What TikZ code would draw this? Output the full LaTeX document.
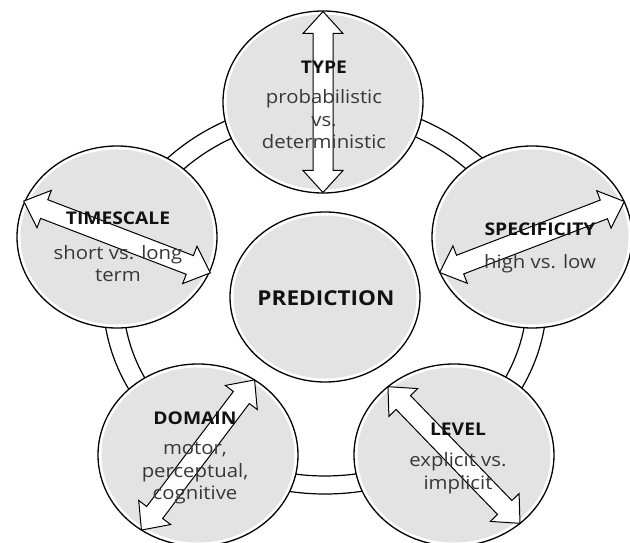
\documentclass[tikz,border=0pt]{standalone}
\usepackage{fontspec}
\setmainfont{Open Sans}[FakeStretch=1.1]
\usetikzlibrary{shapes.geometric}

\definecolor{bubblegray}{HTML}{E3E3E3}
\definecolor{bodyink}{HTML}{383838}
\definecolor{titleink}{HTML}{111111}

% bold heading inside a bubble
\newcommand\bubbletitle[1]{{\color{titleink}\fontsize{17.5}{22.5}\selectfont\bfseries #1}}

% white double-headed block arrow: centre, angle, total length
\newcommand\twowayarrow[3]{%
  \begin{scope}[shift={(#1)}, rotate=#2]
    \pgfmathsetmacro\halflen{#3/2}
    \draw[twoway] (-\halflen,0) -- ++(22,20) -- ++(0,-10) -- (\halflen-22,10)
      -- ++(0,10) -- (\halflen,0) -- ++(-22,-20) -- ++(0,10)
      -- (-\halflen+22,-10) -- ++(0,-10) -- cycle;
  \end{scope}}

\begin{document}
\begin{tikzpicture}[x=1pt, y=1pt,
  ringline/.style={draw=black, line width=1.2pt},
  bubble/.style={ellipse, draw=black, line width=1.3pt, fill=white,
    inner sep=0pt, outer sep=0pt, minimum width=200pt, minimum height=182pt,
    path picture={\fill[bubblegray] (path picture bounding box.center)
      ellipse [x radius=96.5pt, y radius=87.5pt];}},
  hub/.style={ellipse, draw=black, line width=1.3pt, fill=white,
    inner sep=0pt, outer sep=0pt, minimum width=190pt, minimum height=170pt,
    path picture={\fill[bubblegray] (path picture bounding box.center)
      ellipse [x radius=91.5pt, y radius=81.5pt];}},
  twoway/.style={draw=black, line width=1pt, fill=white, line join=miter},
  caption/.style={align=center, anchor=north, text=bodyink, inner sep=0pt,
    font=\fontsize{18.5}{22.5}\selectfont},
  hubtext/.style={text=titleink, inner sep=0pt,
    font=\fontsize{20.5}{24}\selectfont\bfseries},
]
\useasboundingbox (0,0) rectangle (630,542);

% ring joining the five outer bubbles
\coordinate (hubc) at (325,245);
\draw[ringline] (hubc) ellipse [x radius=222, y radius=197];
\draw[ringline] (hubc) ellipse [x radius=202, y radius=179];

% bubbles
\node[hub]    (prediction)  at (hubc) {};
\node[bubble] (type)        at (323,440) {};
\node[bubble] (timescale)   at (117,305) {};
\node[bubble] (specificity) at (532,305) {};
\node[bubble] (domain)      at (198,87) {};
\node[bubble] (level)       at (454,87) {};

% double-headed arrows across the outer bubbles
\twowayarrow{type.center}{90}{181}
\twowayarrow{timescale.center}{-21}{200}
\twowayarrow{specificity.center}{21}{198}
\twowayarrow{domain.center}{53}{188}
\twowayarrow{level.center}{-46}{190}

% captions, hung from the top of their headings
\node[hubtext] (predictiontext) at (326,244) {PREDICTION};
\node[caption] (typetext) at (324,481)
  {\bubbletitle{TYPE}\\[7.5pt] probabilistic\\vs.\\deterministic};
\node[caption] (timescaletext) at (118,330)
  {\bubbletitle{TIMESCALE}\\[12pt] short vs. long\\term};
\node[caption] (specificitytext) at (540,319)
  {\bubbletitle{SPECIFICITY}\\[10.5pt] high vs. low};
\node[caption] (domaintext) at (195,130)
  {\bubbletitle{DOMAIN}\\[7.5pt] motor,\\perceptual,\\cognitive};
\node[caption] (leveltext) at (458,119)
  {\bubbletitle{LEVEL}\\[8.5pt] explicit vs.\\implicit};
\end{tikzpicture}
\end{document}
